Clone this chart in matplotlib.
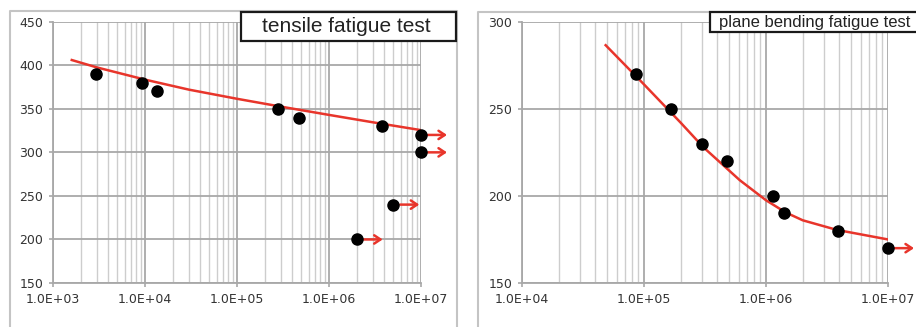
import numpy as np
import matplotlib.pyplot as plt
from matplotlib.patches import Rectangle
from matplotlib.lines import Line2D
from matplotlib.transforms import offset_copy
from matplotlib.ticker import LogLocator, FixedLocator, NullFormatter

# tensile fatigue test
tens_n = [2930, 9200, 13400, 2.8e5, 4.7e5, 3.8e6]
tens_s = [390, 380, 370, 350, 340, 330]
tens_runout_n = [1e7, 1e7, 5e6, 2e6]
tens_runout_s = [320, 300, 240, 200]
tens_fit_n = [1600, 3000, 1e4, 3e4, 1e5, 3e5, 1e6, 3e6, 1e7]
tens_fit_s = [406, 397.5, 383.5, 372, 361.5, 352.5, 343, 334.5, 325.5]

# plane bending fatigue test
bend_n = [85500, 1.66e5, 3.0e5, 4.76e5, 1.15e6, 1.4e6, 3.87e6]
bend_s = [270, 250, 230, 220, 200, 190, 180]
bend_runout_n = [1e7]
bend_runout_s = [170]
bend_fit_n = [4.85e4, 1e5, 2e5, 3.06e5, 6.1e5, 1e6, 1.45e6, 2e6, 3.8e6, 1e7]
bend_fit_s = [286.5, 264, 242, 228, 209, 197.5, 190.5, 186, 180.5, 175]

red = '#e8352b'
major_c = '#a8a8a8'
minor_c = '#cdcdcd'

fig = plt.figure(figsize=(9.16, 3.27), dpi=100)
W, H = 916.0, 327.0


def px_rect(x0, y0, x1, y1):
    return [x0 / W, 1 - y1 / H, (x1 - x0) / W, (y1 - y0) / H]


def setup(ax, xlim, ylim, yticks, xticks):
    ax.set_xscale('log')
    ax.set_xlim(*xlim)
    ax.set_ylim(*ylim)
    ax.xaxis.set_major_locator(FixedLocator(xticks))
    ax.xaxis.set_minor_locator(LogLocator(base=10, subs=np.arange(2, 10)))
    ax.xaxis.set_minor_formatter(NullFormatter())
    ax.set_xticklabels(['%.1fE+%02d' % (1.0, int(round(np.log10(t)))) for t in xticks])
    ax.set_yticks(yticks)
    ax.set_yticklabels([str(t) for t in yticks])
    ax.grid(True, which='major', color=major_c, lw=1.3, zorder=0)
    ax.grid(True, which='minor', axis='x', color=minor_c, lw=1.0, zorder=0)
    for sp in ax.spines.values():
        sp.set_visible(False)
    for side in ['left', 'bottom']:
        ax.spines[side].set_visible(True)
        ax.spines[side].set_color(major_c)
        ax.spines[side].set_linewidth(1.3)
    ax.tick_params(which='major', length=3, width=1.2, color=major_c,
                   labelsize=9, labelcolor='#333333', pad=4)
    ax.tick_params(which='minor', length=0)
    ax.set_axisbelow(True)


def arrows(ax, ns, ss):
    tail = offset_copy(ax.transData, fig=fig, x=7, y=0, units='dots')
    head = offset_copy(ax.transData, fig=fig, x=26, y=0, units='dots')
    for n, s in zip(ns, ss):
        ax.annotate('', xy=(n, s), xycoords=head, xytext=(n, s), textcoords=tail,
                    arrowprops=dict(arrowstyle='->,head_length=0.45,head_width=0.3',
                                    color=red, lw=1.8, shrinkA=0, shrinkB=0),
                    annotation_clip=False)


ax1 = fig.add_axes(px_rect(53, 21.7, 421, 283))
setup(ax1, (1e3, 1e7), (150, 450), [150, 200, 250, 300, 350, 400, 450],
      [1e3, 1e4, 1e5, 1e6, 1e7])
ax1.plot(tens_fit_n, tens_fit_s, color=red, lw=1.8, zorder=3)
ax1.plot(tens_n, tens_s, 'o', color='black', ms=8, zorder=4, clip_on=False)
ax1.plot(tens_runout_n, tens_runout_s, 'o', color='black', ms=8, zorder=4, clip_on=False)
arrows(ax1, tens_runout_n, tens_runout_s)

ax2 = fig.add_axes(px_rect(522, 21.7, 888, 283))
setup(ax2, (1e4, 1e7), (150, 300), [150, 200, 250, 300],
      [1e4, 1e5, 1e6, 1e7])
ax2.plot(bend_fit_n, bend_fit_s, color=red, lw=1.8, zorder=3)
ax2.plot(bend_n, bend_s, 'o', color='black', ms=8, zorder=4, clip_on=False)
ax2.plot(bend_runout_n, bend_runout_s, 'o', color='black', ms=8, zorder=4, clip_on=False)
arrows(ax2, bend_runout_n, bend_runout_s)


# outer panel frames
def fig_line(xs, ys, **kw):
    fig.add_artist(Line2D([x / W for x in xs], [1 - y / H for y in ys],
                          transform=fig.transFigure, **kw))


fig_line([10, 10, 457, 457], [330, 11, 11, 330], color='#c4c4c4', lw=1.5, zorder=0.5)
fig_line([478, 478, 920], [330, 12, 12], color='#c4c4c4', lw=1.5, zorder=0.5)

# title boxes
fig.add_artist(Rectangle((241 / W, 1 - 41 / H), (456 - 241) / W, 29 / H,
                         transform=fig.transFigure, facecolor='white',
                         edgecolor='#1a1a1a', lw=1.6, zorder=5))
fig.text(346 / W, 1 - 26.5 / H, 'tensile fatigue test', ha='center', va='center',
         fontsize=15, family='Liberation Sans', color='#222222', zorder=6)
fig.add_artist(Rectangle((710 / W, 1 - 32 / H), 230 / W, 20 / H,
                         transform=fig.transFigure, facecolor='white',
                         edgecolor='#1a1a1a', lw=1.6, zorder=5))
fig.text(719 / W, 1 - 22.5 / H, 'plane bending fatigue test', ha='left', va='center',
         fontsize=12, family='Liberation Sans', color='#222222', zorder=6)

fig.savefig('out.png', dpi=100)
